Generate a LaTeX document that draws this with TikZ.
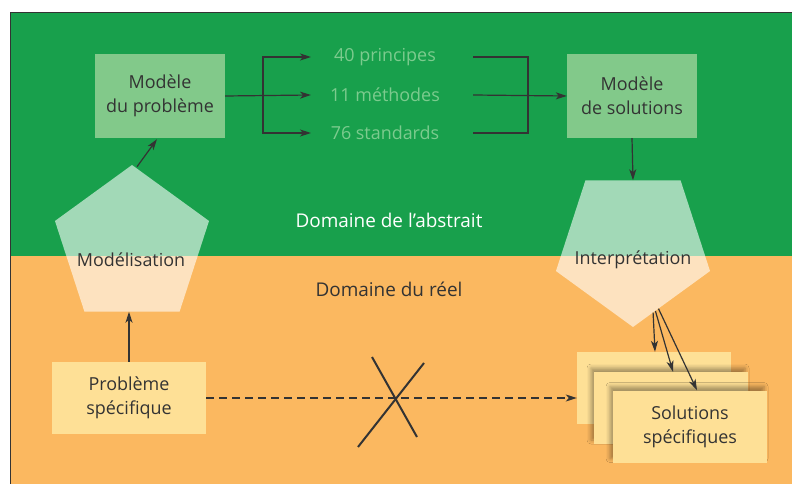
\documentclass[tikz,border=0pt]{standalone}
\usepackage{fontspec}
\setmainfont{Open Sans}
\usetikzlibrary{shapes.geometric,arrows.meta,calc,shadows.blur}

\definecolor{abstrgreen}{HTML}{18A04C}
\definecolor{reelorange}{HTML}{FBB860}
\definecolor{boxgreen}{HTML}{82C98A}
\definecolor{listgreen}{HTML}{7CCB8E}
\definecolor{boxyellow}{HTML}{FEE096}
\definecolor{ink}{HTML}{333333}
\definecolor{frameline}{HTML}{333333}

\tikzset{
  modelbox/.style={fill=boxgreen, text=ink, align=center, inner sep=0,
    minimum width=130bp, minimum height=84bp},
  realbox/.style={fill=boxyellow, text=ink, align=center, inner sep=0,
    minimum width=154bp, minimum height=72bp},
  listtext/.style={text=listgreen},
  domainlabel/.style={font=\fontsize{19}{24}\selectfont},
  pent/.style={regular polygon, regular polygon sides=5, minimum size=162bp,
    inner sep=0, fill=white, fill opacity=0.6},
  arr/.style={draw=ink, line width=1.2bp, -{Stealth[length=11bp,width=7bp,inset=3bp]}},
  plain/.style={draw=ink, line width=1.2bp},
  crossline/.style={draw=ink, line width=2bp},
  solshadow/.style={blur shadow={shadow xshift=-3bp, shadow yshift=4bp,
    shadow blur radius=4bp, shadow opacity=35}}
}

\begin{document}
\begin{tikzpicture}[x=1bp,y=-1bp,font=\fontsize{18}{24}\selectfont]
  \clip (0,0) rectangle (792,484);
  \fill[abstrgreen] (10,12) rectangle (800,256);
  \fill[reelorange] (10,256) rectangle (800,490);
  \draw[frameline, line width=0.8bp] (10,490) -- (10,12) -- (800,12);

  % abstract side
  \node[modelbox] (mprob) at (160,96) {Modèle\\du problème};
  \node[modelbox] (msol) at (632,96) {Modèle\\de solutions};

  \node[listtext] (prin) at (385,57) {40 principes};
  \node[listtext] (meth) at (385,95) {11 méthodes};
  \node[listtext] (stand) at (385,133) {76 standards};

  \coordinate (lsplit) at (263,95);
  \coordinate (ltip) at (311,95);
  \coordinate (rsplit) at (528,95);
  \coordinate (rstart) at (473,95);

  \draw[arr] (mprob.east) -- (ltip);
  \draw[arr] (lsplit) |- (ltip |- prin);
  \draw[arr] (lsplit) |- (ltip |- stand);

  \draw[plain] (rstart |- prin) -| (rsplit) |- (rstart |- stand);
  \draw[arr] (rstart) -- (msol.west);

  \node[domainlabel, text=white] (abstr) at (389,220) {Domaine de l’abstrait};
  \node[domainlabel, text=ink] (reel) at (389,289) {Domaine du réel};

  % pentagons
  \node[pent] (modl) at (132,246) {};
  \node[pent, shape border rotate=180] (interp) at (633,246) {};
  \node[text=ink] (modltxt) at (131,260) {Modélisation};
  \node[text=ink] (interptxt) at (633,260) {Interprétation};

  \draw[arr] ([shift={(5,2)}]modl.corner 1) -- ([shift={(-3,1)}]mprob.south);
  \draw[arr] (msol.south) -- (interp.north);

  % real side
  \node[realbox] (prob) at (129,398) {Problème\\spécifique};
  \draw[arr] (prob.north) -- (prob.north |- modl.south);

  \node[realbox] (sol1) at (654,388) {};
  \node[realbox, solshadow] (sol2) at (671,408) {};
  \node[realbox, solshadow] (sol3) at (690,426.5) {Solutions\\spécifiques};

  \draw[arr, dash pattern=on 8bp off 5bp] (prob.east) -- (prob.east -| sol1.west);
  \draw[crossline] (372,357) -- (417,437);
  \draw[crossline] (424,363) -- (358,447);

  \draw[arr] ($(interp.corner 1)!0.26!(interp.corner 2)$) -- ([xshift=1bp]sol1.north);
  \draw[arr] ($(interp.corner 1)!0.29!(interp.corner 2)$) -- ([xshift=2bp]sol2.north);
  \draw[arr] ($(interp.corner 1)!0.33!(interp.corner 2)$) -- ([xshift=7bp]sol3.north);
\end{tikzpicture}
\end{document}
